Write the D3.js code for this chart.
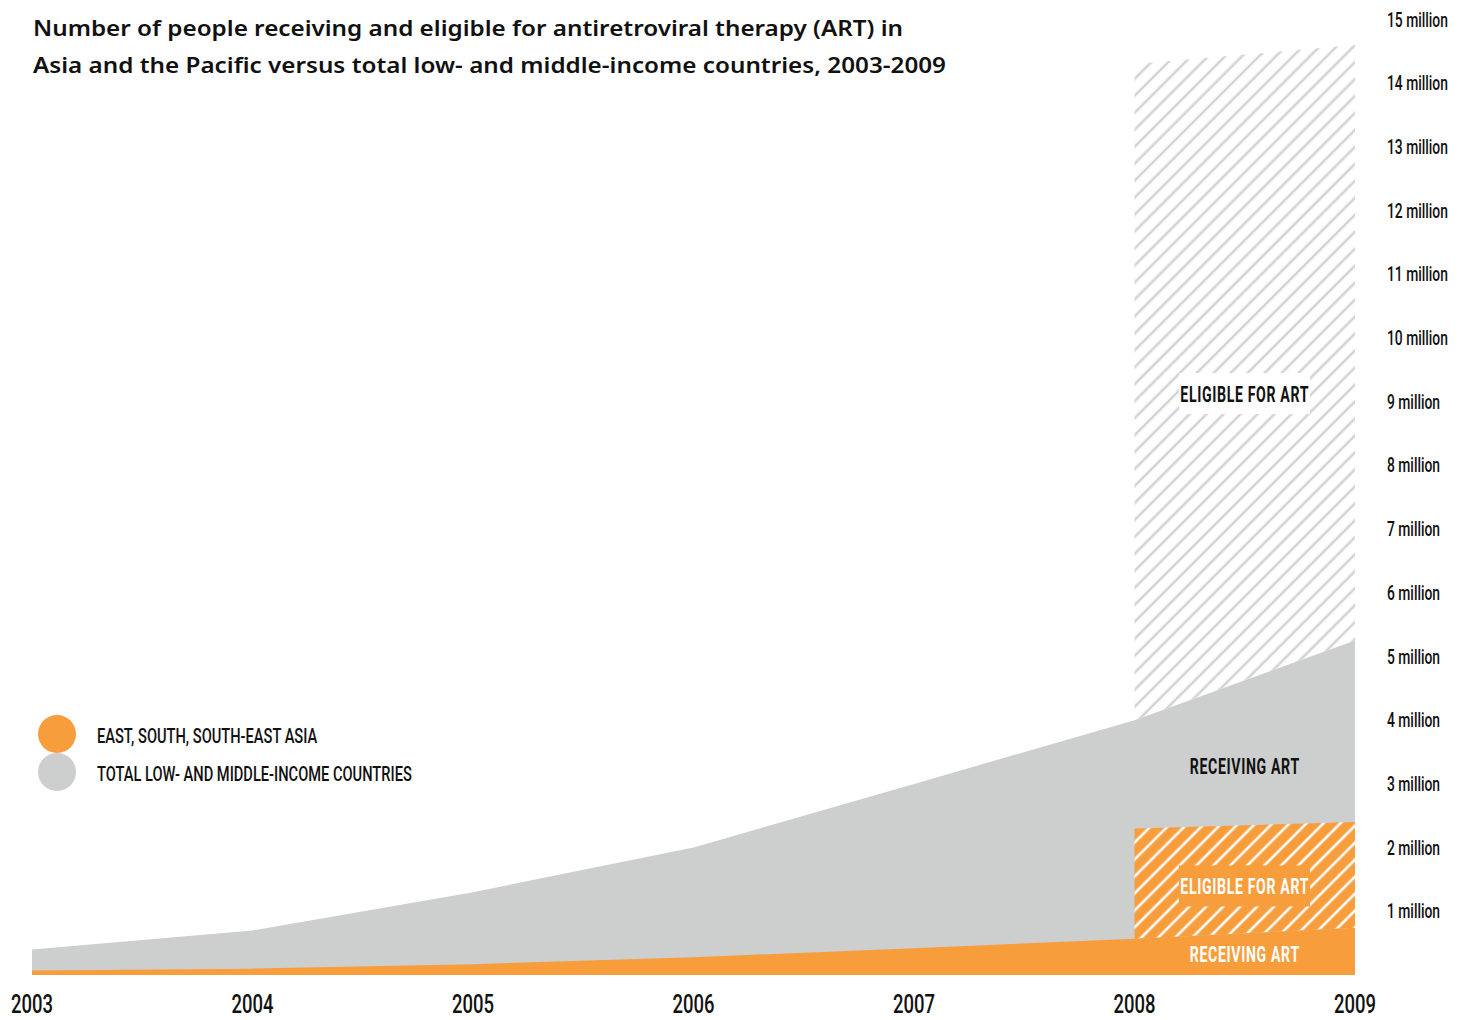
<!DOCTYPE html>
<html>
<head>
<meta charset="utf-8">
<script src="https://cdn.jsdelivr.net/npm/d3@7"></script>
<style>
  body { margin: 0; background: #fff; }
  svg { display: block; }
  .cond { font-family: Roboto, "Liberation Sans", sans-serif; }
</style>
</head>
<body>
<svg id="chart" width="1462" height="1020"></svg>
<script>
const years = [2003, 2004, 2005, 2006, 2007, 2008, 2009];
const totalReceiving = [0.4, 0.7, 1.3, 2.0, 3.0, 4.0, 5.25];
const asiaReceiving = [0.07, 0.1, 0.17, 0.28, 0.42, 0.57, 0.74];
const eligibleYears = [2008, 2009];
const totalEligible = [14.3, 14.6];
const asiaEligible = [2.3, 2.4];
const yTicks = [1, 2, 3, 4, 5, 6, 7, 8, 9, 10, 11, 12, 13, 14, 15];
const legendLabels = ['EAST, SOUTH, SOUTH-EAST ASIA', 'TOTAL LOW- AND MIDDLE-INCOME COUNTRIES'];
const titleLines = [
  'Number of people receiving and eligible for antiretroviral therapy (ART) in',
  'Asia and the Pacific versus total low- and middle-income countries, 2003-2009',
];

const orange = '#f89d3c';
const grey = '#cdcfce';
const hatchGrey = '#d3d3d3';

const svg = d3.select('#chart');
const x = d3.scaleLinear().domain([2003, 2009]).range([32, 1355]);
const y = d3.scaleLinear().domain([0, 15]).range([975, 19.5]);

// the original uses a condensed face; squeeze a normal one to the same width
function squeeze(sel, targetWidth) {
  let w = 0;
  sel.each(function () { w = Math.max(w, this.getComputedTextLength()); });
  const s = targetWidth / w;
  sel.each(function () {
    const t = d3.select(this);
    const px = +t.attr('x');
    const py = +t.attr('y');
    t.attr('x', 0).attr('y', 0)
      .attr('transform', `translate(${px},${py}) scale(${s},1)`);
  });
}

// hatch patterns
const defs = svg.append('defs');
function hatch(id, bg, line) {
  const p = defs.append('pattern')
    .attr('id', id)
    .attr('patternUnits', 'userSpaceOnUse')
    .attr('width', 12)
    .attr('height', 12)
    .attr('patternTransform', 'rotate(45)');
  p.append('rect').attr('width', 12).attr('height', 12).attr('fill', bg);
  p.append('line')
    .attr('x1', 6).attr('y1', 0).attr('x2', 6).attr('y2', 12)
    .attr('stroke', line).attr('stroke-width', 2.6);
}
hatch('hatchGrey', '#fff', hatchGrey);
hatch('hatchOrange', orange, '#fff');

const rows = years.map((yr, i) => ({ yr, total: totalReceiving[i], asia: asiaReceiving[i] }));
const elig = eligibleYears.map((yr, i) => ({
  yr,
  total: totalEligible[i],
  asia: asiaEligible[i],
  totalRec: totalReceiving[years.indexOf(yr)],
  asiaRec: asiaReceiving[years.indexOf(yr)],
}));

// total eligible (hatched grey)
svg.append('path')
  .datum(elig)
  .attr('fill', 'url(#hatchGrey)')
  .attr('d', d3.area().x(d => x(d.yr)).y0(d => y(d.totalRec)).y1(d => y(d.total)));

// total receiving
svg.append('path')
  .datum(rows)
  .attr('fill', grey)
  .attr('d', d3.area().x(d => x(d.yr)).y0(y(0)).y1(d => y(d.total)));

// asia eligible (hatched orange)
svg.append('path')
  .datum(elig)
  .attr('fill', 'url(#hatchOrange)')
  .attr('d', d3.area().x(d => x(d.yr)).y0(d => y(d.asiaRec)).y1(d => y(d.asia)));

// asia receiving
svg.append('path')
  .datum(rows)
  .attr('fill', orange)
  .attr('d', d3.area().x(d => x(d.yr)).y0(y(0)).y1(d => y(d.asia)));

// in-chart labels
const midX = (x(2008) + x(2009)) / 2;
const areaLabels = [];
function boxLabel(text, cy, bg, fg) {
  if (bg) {
    svg.append('rect')
      .attr('x', 1179).attr('y', cy - 21)
      .attr('width', 131).attr('height', 41)
      .attr('fill', bg);
  }
  areaLabels.push(svg.append('text')
    .attr('class', 'cond')
    .attr('x', midX).attr('y', cy + 8)
    .attr('text-anchor', 'middle')
    .attr('font-size', 22)
    .attr('font-weight', 700)
    .attr('letter-spacing', 1)
    .attr('fill', fg)
    .text(text).node());
}
boxLabel('ELIGIBLE FOR ART', y(9.12), '#fff', '#111');
boxLabel('RECEIVING ART', y(3.28), null, '#111');
boxLabel('ELIGIBLE FOR ART', y(1.39), orange, '#fff');
boxLabel('RECEIVING ART', y(0.33), null, '#fff');
squeeze(d3.selectAll(areaLabels), 129);

// y axis labels
const yLabels = svg.append('g')
  .selectAll('text')
  .data(yTicks)
  .join('text')
  .attr('class', 'cond')
  .attr('x', 1387)
  .attr('y', d => y(d) + 7)
  .attr('font-size', 20)
  .attr('font-weight', 500)
  .attr('fill', '#111')
  .text(d => `${d} million`);
squeeze(yLabels, 61);

// x axis labels
const xLabels = svg.append('g')
  .selectAll('text')
  .data(years)
  .join('text')
  .attr('class', 'cond')
  .attr('x', d => x(d))
  .attr('y', 1013)
  .attr('text-anchor', 'middle')
  .attr('font-size', 25)
  .attr('font-weight', 500)
  .attr('fill', '#111')
  .text(d => d);
squeeze(xLabels, 42);

// legend
const legend = svg.append('g').attr('transform', 'translate(57,734)');
const items = legend.selectAll('g')
  .data(legendLabels)
  .join('g')
  .attr('transform', (d, i) => `translate(0,${i * 38})`);
items.append('circle')
  .attr('r', 19)
  .attr('fill', (d, i) => (i === 0 ? orange : grey));
const legendText = items.append('text')
  .attr('class', 'cond')
  .attr('x', 40)
  .attr('y', 9)
  .attr('font-size', 21)
  .attr('font-weight', 500)
  .attr('fill', '#111')
  .text(d => d);
squeeze(legendText, 315);

// title
const titleWidths = [870, 913];
svg.append('g')
  .selectAll('text')
  .data(titleLines)
  .join('text')
  .attr('x', 33)
  .attr('y', (d, i) => 36 + i * 37)
  .attr('font-family', '"Noto Sans", sans-serif')
  .attr('font-weight', 600)
  .attr('font-size', 22)
  .attr('fill', '#111')
  .attr('textLength', (d, i) => titleWidths[i])
  .attr('lengthAdjust', 'spacingAndGlyphs')
  .text(d => d);
</script>
</body>
</html>
